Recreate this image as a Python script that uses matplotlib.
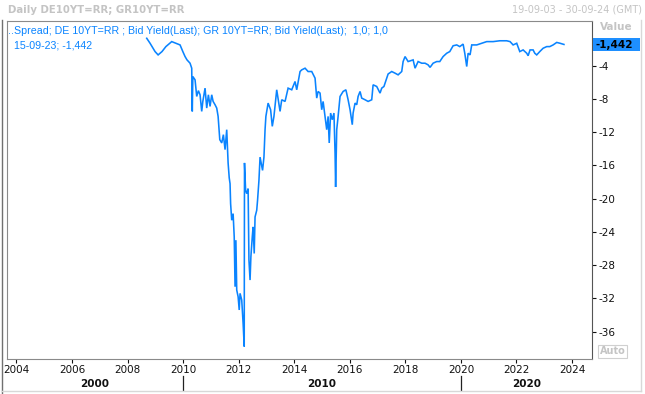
import matplotlib
matplotlib.use('Agg')  # headless
import matplotlib.pyplot as plt
import matplotlib.transforms as mtransforms
from matplotlib.patches import Rectangle
from matplotlib.lines import Line2D
import numpy as np

# --- data: DE10Y - GR10Y spread (decimal years, spread in %-points) ---
dates = [
    2008.69, 2008.81, 2008.99, 2009.10, 2009.24, 2009.38, 2009.59, 2009.74, 2009.89, 2009.99,
    2010.07, 2010.14, 2010.25, 2010.31, 2010.33, 2010.35, 2010.43, 2010.49, 2010.55, 2010.61,
    2010.67, 2010.71, 2010.79, 2010.85, 2010.91, 2010.97, 2011.03, 2011.08, 2011.15, 2011.21,
    2011.26, 2011.32, 2011.39, 2011.45, 2011.51, 2011.57, 2011.62, 2011.66, 2011.69, 2011.71,
    2011.75, 2011.80, 2011.84, 2011.87, 2011.90, 2011.93, 2011.98, 2012.02, 2012.05, 2012.11,
    2012.14, 2012.16, 2012.20, 2012.21, 2012.25, 2012.29, 2012.34, 2012.37, 2012.41, 2012.44,
    2012.49, 2012.52, 2012.56, 2012.59, 2012.65, 2012.68, 2012.73, 2012.77, 2012.86, 2012.91,
    2012.95, 2012.98, 2013.06, 2013.15, 2013.21, 2013.27, 2013.37, 2013.49, 2013.55, 2013.67,
    2013.78, 2013.91, 2014.03, 2014.09, 2014.21, 2014.27, 2014.39, 2014.50, 2014.63, 2014.75,
    2014.81, 2014.86, 2014.93, 2014.99, 2015.04, 2015.11, 2015.17, 2015.22, 2015.26, 2015.31,
    2015.37, 2015.43, 2015.47, 2015.49, 2015.53, 2015.58, 2015.65, 2015.76, 2015.86, 2015.94,
    2016.01, 2016.09, 2016.12, 2016.19, 2016.25, 2016.30, 2016.37, 2016.43, 2016.55, 2016.66,
    2016.79, 2016.84, 2016.97, 2017.09, 2017.15, 2017.23, 2017.33, 2017.38, 2017.51, 2017.63,
    2017.74, 2017.87, 2017.92, 2017.99, 2018.10, 2018.28, 2018.35, 2018.46, 2018.59, 2018.71,
    2018.82, 2018.89, 2019.00, 2019.13, 2019.24, 2019.36, 2019.49, 2019.60, 2019.72, 2019.85,
    2019.96, 2020.08, 2020.14, 2020.21, 2020.26, 2020.33, 2020.39, 2020.57, 2020.75, 2020.93,
    2021.16, 2021.40, 2021.65, 2021.77, 2021.88, 2022.01, 2022.12, 2022.24, 2022.37, 2022.42,
    2022.49, 2022.60, 2022.66, 2022.73, 2022.84, 2022.96, 2023.09, 2023.20, 2023.32, 2023.45,
    2023.57, 2023.71,
]
spread = [
    -0.7, -1.3, -2.3, -2.7, -2.3, -1.7, -1.1, -1.3, -1.5, -2.3,
    -2.9, -3.3, -3.7, -4.3, -9.5, -5.3, -5.7, -7.7, -7.0, -7.5,
    -9.5, -8.3, -6.7, -9.1, -7.5, -8.9, -7.5, -8.3, -8.7, -9.1,
    -10.1, -12.9, -13.3, -12.3, -14.1, -11.7, -15.7, -17.5, -18.2, -20.6,
    -22.6, -21.8, -24.6, -30.6, -25.0, -31.0, -31.8, -33.4, -31.4, -32.2,
    -33.8, -35.0, -37.8, -15.7, -19.0, -19.4, -18.8, -27.4, -29.8, -27.0,
    -24.6, -23.4, -26.6, -22.2, -21.4, -20.2, -17.8, -15.0, -16.6, -15.0,
    -11.7, -10.1, -8.5, -9.3, -11.3, -10.1, -6.9, -9.5, -8.1, -8.3,
    -6.7, -6.9, -5.9, -6.9, -4.7, -4.5, -4.3, -4.7, -4.7, -5.5,
    -7.9, -7.1, -7.3, -9.3, -8.3, -10.1, -11.7, -10.1, -13.3, -9.7,
    -10.5, -9.7, -14.5, -18.6, -11.7, -10.1, -7.7, -7.1, -6.9, -8.1,
    -9.3, -11.1, -9.7, -8.5, -8.7, -7.7, -7.1, -7.9, -8.1, -8.3,
    -8.1, -6.3, -6.5, -7.3, -6.7, -6.5, -5.5, -5.0, -4.7, -4.9,
    -5.1, -4.7, -3.5, -2.9, -3.5, -3.3, -4.3, -3.5, -3.7, -3.7,
    -3.9, -4.2, -3.7, -3.5, -3.5, -2.9, -2.5, -2.3, -1.6, -1.5,
    -1.7, -1.4, -2.5, -4.1, -2.5, -2.7, -1.5, -1.5, -1.3, -1.1,
    -1.1, -1.0, -1.0, -1.1, -1.5, -1.3, -2.3, -2.1, -2.5, -2.8,
    -2.1, -2.1, -2.5, -2.7, -2.3, -1.9, -1.7, -1.7, -1.5, -1.2,
    -1.3, -1.442,
]
year_ticks = list(range(2004, 2025, 2))
value_ticks = [-4, -8, -12, -16, -20, -24, -28, -32, -36]
decades = ['2000', '2010', '2020']
decade_bounds = [2003.66, 2010, 2020, 2024.72]
last_label = '-1,442'
legend_line1 = '..Spread; DE 10YT=RR ; Bid Yield(Last); GR 10YT=RR; Bid Yield(Last);  1,0; 1,0'
legend_line2 = '15-09-23; -1,442'

BLUE = '#0a84ff'
GREY = '#c4c4c4'
W, H = 645, 394

plt.rcParams['font.family'] = ['DejaVu Sans']

fig = plt.figure(figsize=(W / 100, H / 100), dpi=100)
fig.patch.set_facecolor('white')


def fx(px):
    return px / W


def fy(py):
    return 1 - py / H


ax = fig.add_axes([fx(7), fy(359), fx(592) - fx(7), fy(21) - fy(359)])
ax.plot(dates, spread, color=BLUE, lw=1.15, solid_joinstyle='miter')
ax.set_xlim(decade_bounds[0], decade_bounds[-1])
ax.set_ylim(-39.3, 1.38)

for s in ax.spines.values():
    s.set_color('#8a8a8a')
    s.set_linewidth(0.8)
ax.spines['right'].set_color('#555555')

ax.yaxis.tick_right()
ax.set_yticks(value_ticks)
ax.set_yticklabels([str(v) for v in value_ticks])
ax.set_xticks(year_ticks)
ax.set_xticklabels([str(y) for y in year_ticks])
ax.tick_params(axis='y', direction='out', length=3, width=0.8, pad=2,
               labelsize=7.5, colors='#111111')
ax.tick_params(axis='x', direction='out', length=3, width=0.8, pad=1,
               labelsize=7.5, colors='#111111')

# decade band below the year labels
trans = mtransforms.blended_transform_factory(ax.transData, fig.transFigure)
for i, d in enumerate(decades):
    mid = (decade_bounds[i] + decade_bounds[i + 1]) / 2
    ax.text(mid, fy(384), d, transform=trans, ha='center', va='center',
            fontsize=7.5, fontweight='bold', color='#111111')
for b in decade_bounds[1:-1]:
    fig.add_artist(Line2D([b, b], [fy(376), fy(390)], transform=trans,
                          color='#222222', lw=0.9))

# legend text inside the plot
fig.text(fx(8), fy(31), legend_line1, color=BLUE, fontsize=7.7,
         family='Liberation Sans', va='center', ha='left')
fig.text(fx(14), fy(46), legend_line2, color=BLUE, fontsize=7.7,
         family='Liberation Sans', va='center', ha='left')

# header
fig.text(fx(8), fy(10), 'Daily DE10YT=RR; GR10YT=RR', color=GREY, fontsize=7.3,
         fontweight='bold', va='center', ha='left')
fig.text(fx(642), fy(10), '19-09-03 - 30-09-24 (GMT)', color=GREY, fontsize=7.0,
         va='center', ha='right')
fig.text(fx(600), fy(27), 'Value', color=GREY, fontsize=7.5, fontweight='bold',
         va='center', ha='left')

# last value marker on the axis
fig.add_artist(Rectangle((fx(593), fy(51)), fx(640) - fx(593), fy(38) - fy(51),
                         transform=fig.transFigure, facecolor='#1e8fff',
                         edgecolor='none'))
fig.text(fx(595), fy(44.5), last_label, color='black', fontsize=7.5,
         fontweight='bold', va='center', ha='left')

# "Auto" button
fig.add_artist(Rectangle((fx(598), fy(358)), fx(627) - fx(598), fy(345) - fy(358),
                         transform=fig.transFigure, facecolor='white',
                         edgecolor='#d0d0d0', lw=0.8))
fig.text(fx(612.5), fy(351.5), 'Auto', color=GREY, fontsize=7, fontweight='bold',
         va='center', ha='center')

# outer frame
fig.add_artist(Line2D([fx(2), fx(2)], [fy(20), fy(394)], transform=fig.transFigure,
                      color='#707070', lw=1))
fig.add_artist(Line2D([fx(2), fx(641)], [fy(391), fy(391)], transform=fig.transFigure,
                      color='#d8d8d8', lw=1))
fig.add_artist(Line2D([fx(641), fx(641)], [fy(20), fy(391)], transform=fig.transFigure,
                      color='#d8d8d8', lw=1))

fig.savefig('out.png', dpi=100, facecolor='white')
